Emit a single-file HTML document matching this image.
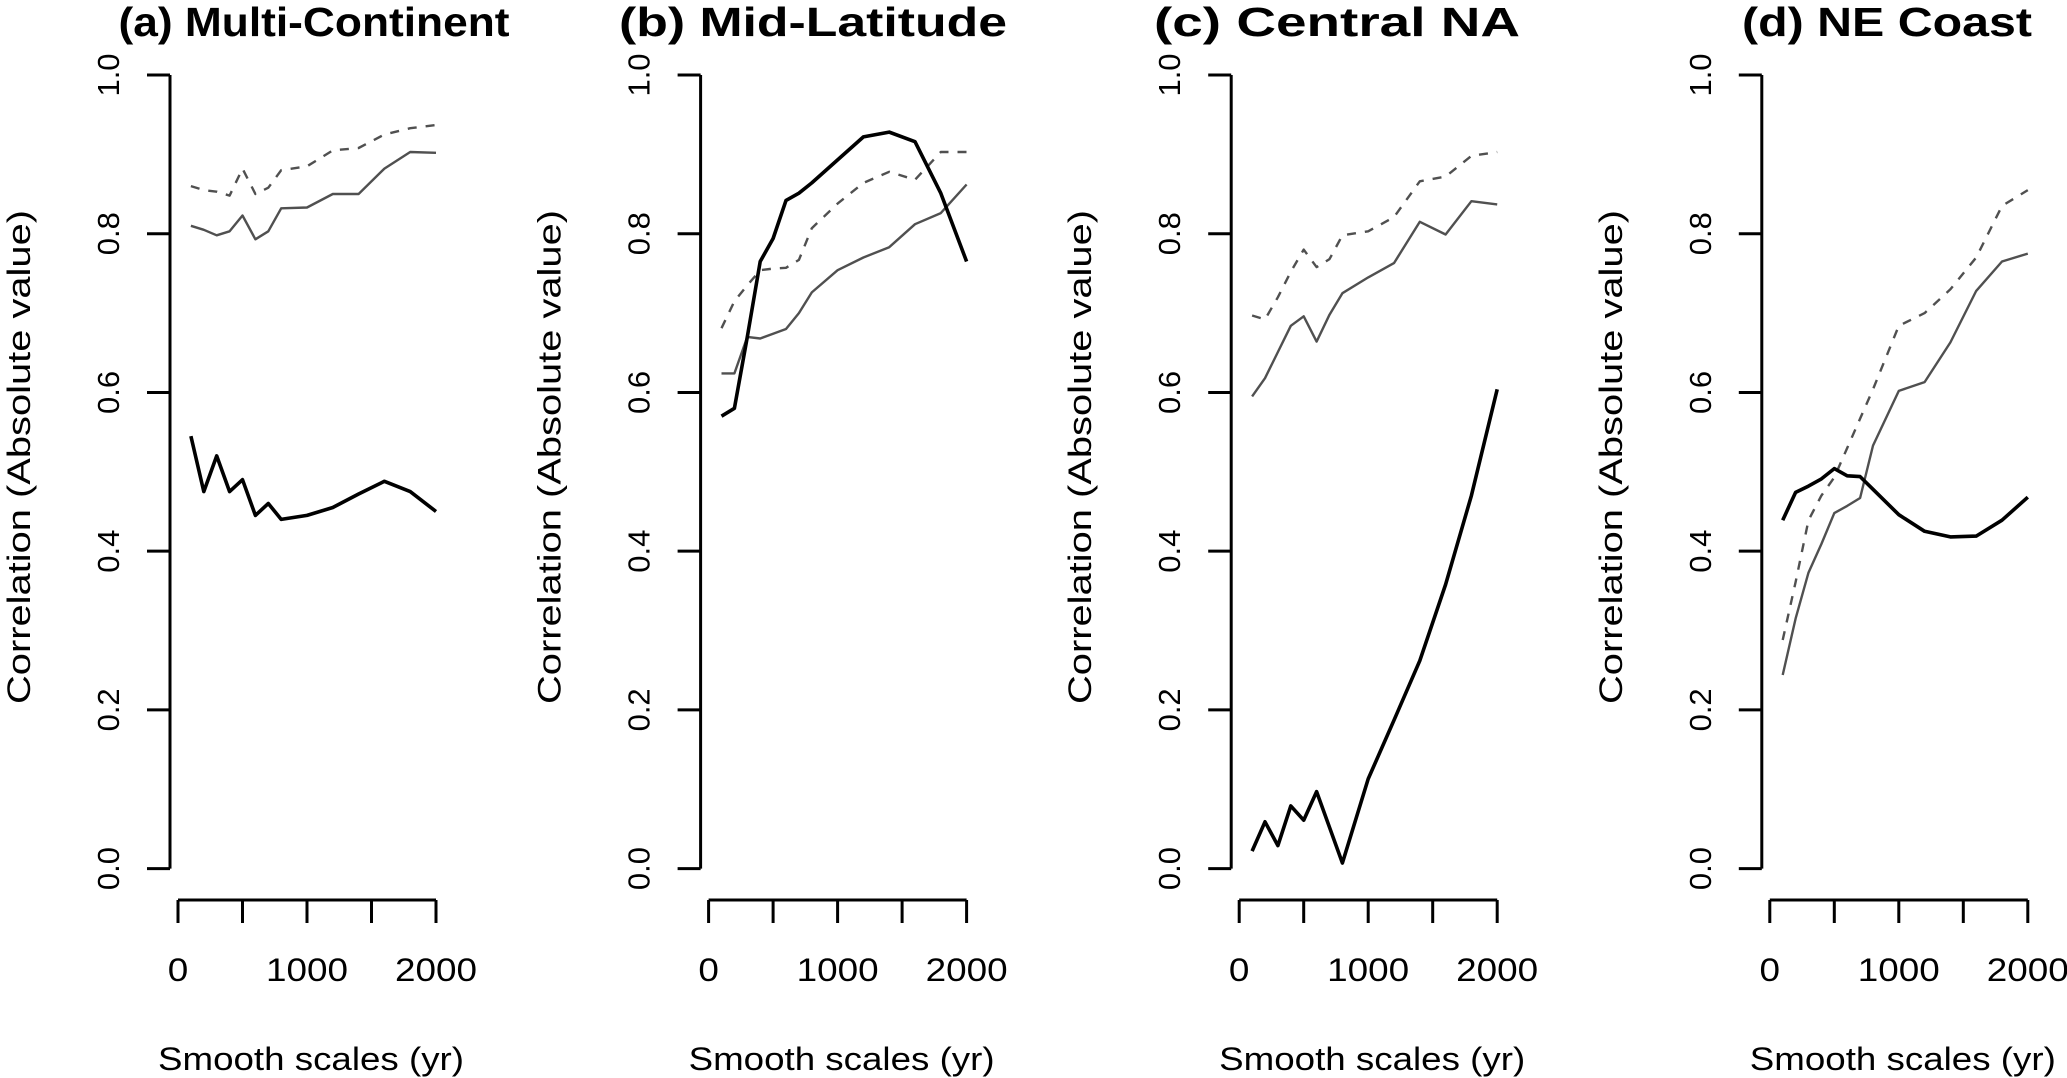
<!DOCTYPE html>
<html><head><meta charset="utf-8">
<style>
html,body{margin:0;padding:0;background:#fff;}
svg{display:block;font-family:"Liberation Sans",Arial,sans-serif;}
</style></head>
<body>
<svg id="chart" width="2067" height="1078" viewBox="0 0 2067 1078" xmlns="http://www.w3.org/2000/svg"></svg>
<script>
const scales = [100,200,300,400,500,600,700,800,1000,1200,1400,1600,1800,2000];
const panelTitles = ["(a) Multi-Continent","(b) Mid-Latitude","(c) Central NA","(d) NE Coast"];
const titleCenters = [314,813,1337,1887];
const titleWidths = [391,388,366,290];
const yTicks = [0,0.2,0.4,0.6,0.8,1.0];
const yTickLabels = ["0.0","0.2","0.4","0.6","0.8","1.0"];
const xTicks = [0,500,1000,1500,2000];
const xTickLabels = ["0","","1000","","2000"];
const blackA = [0.545,0.475,0.52,0.475,0.49,0.445,0.46,0.44,0.445,0.455,0.472,0.488,0.475,0.45];
const grayA  = [0.81,0.805,0.798,0.803,0.823,0.793,0.803,0.832,0.833,0.85,0.85,0.882,0.903,0.902];
const dashA  = [0.86,0.855,0.853,0.848,0.882,0.85,0.858,0.88,0.885,0.905,0.908,0.925,0.933,0.937];
const blackB = [0.57,0.58,0.67,0.765,0.794,0.842,0.851,0.864,0.893,0.922,0.928,0.916,0.851,0.765];
const grayB  = [0.624,0.624,0.67,0.668,0.674,0.68,0.70,0.726,0.754,0.77,0.783,0.812,0.826,0.862];
const dashB  = [0.681,0.715,0.735,0.754,0.756,0.757,0.767,0.807,0.838,0.864,0.878,0.868,0.903,0.903];
const blackC = [0.022,0.059,0.029,0.079,0.061,0.097,0.052,0.007,0.113,0.187,0.262,0.358,0.47,0.604];
const grayC  = [0.595,0.618,0.651,0.684,0.696,0.664,0.698,0.725,0.745,0.763,0.815,0.799,0.841,0.837];
const dashC  = [0.697,0.692,0.72,0.752,0.78,0.758,0.768,0.798,0.803,0.821,0.866,0.872,0.898,0.903];
const blackD = [0.439,0.474,0.482,0.491,0.504,0.495,0.494,0.478,0.446,0.425,0.418,0.419,0.439,0.468];
const grayD  = [0.244,0.315,0.373,0.409,0.448,0.457,0.467,0.533,0.602,0.613,0.663,0.728,0.765,0.775];
const dashD  = [0.288,0.361,0.439,0.47,0.493,0.53,0.567,0.604,0.684,0.70,0.73,0.77,0.835,0.855];

const panels = [[blackA,grayA,dashA],[blackB,grayB,dashB],[blackC,grayC,dashC],[blackD,grayD,dashD]];
const NS = "http://www.w3.org/2000/svg";
const svg = document.getElementById("chart");
function mk(tag, attrs, parent){ const e=document.createElementNS(NS,tag); for(const k in attrs) e.setAttribute(k,attrs[k]); (parent||svg).appendChild(e); return e; }
const PW = 530.6;
function xs(v,i){ return 178 + i*PW + v*(258/2000); }
function ys(v){ return 868.6 - v*793.6; }

panels.forEach((series,i)=>{
  const off = i*PW;
  const g = mk("g",{});
  
  
  const t = mk("text",{x:titleCenters[i],y:36,"text-anchor":"middle","font-size":41,"font-weight":"bold",fill:"#000",textLength:titleWidths[i],lengthAdjust:"spacingAndGlyphs"},g);
  t.textContent = panelTitles[i];
  
  
  const ya = mk("g",{},g);
  
  
  mk("line",{x1:170+off,x2:170+off,y1:ys(1),y2:ys(0),stroke:"#000","stroke-width":3},ya);
  yTicks.forEach((v,k)=>{
    mk("line",{x1:147+off,x2:170+off,y1:ys(v),y2:ys(v),stroke:"#000","stroke-width":3},ya);
    const lb = mk("text",{x:0,y:0,"text-anchor":"middle","font-size":31,fill:"#000",transform:`translate(${119+off},${ys(v)}) rotate(-90)`},ya);
    lb.textContent = yTickLabels[k];
    
    
  });
  const yt = mk("text",{x:0,y:0,"text-anchor":"middle","font-size":32,fill:"#000",textLength:494,lengthAdjust:"spacingAndGlyphs",transform:`translate(${30+off},457) rotate(-90)`},g);
  yt.textContent = "Correlation (Absolute value)";
  
  
  const xa = mk("g",{},g);
  
  
  mk("line",{x1:xs(0,i),x2:xs(2000,i),y1:900,y2:900,stroke:"#000","stroke-width":3},xa);
  xTicks.forEach((v,k)=>{
    mk("line",{x1:xs(v,i),x2:xs(v,i),y1:900,y2:923,stroke:"#000","stroke-width":3},xa);
    const s = xTickLabels[k];
    if(s){
      const lb = mk("text",{x:xs(v,i),y:981,"text-anchor":"middle","font-size":32,fill:"#000",textLength:s.length*20.5,lengthAdjust:"spacingAndGlyphs"},xa);
      lb.textContent = s;
      
      
    }
  });
  const xt = mk("text",{x:xs(1000,i)+4,y:1070,"text-anchor":"middle","font-size":32,fill:"#000",textLength:306,lengthAdjust:"spacingAndGlyphs"},g);
  xt.textContent = "Smooth scales (yr)";
  
  
  const styles = [
    {stroke:"#000","stroke-width":3.6,name:"black-series"},
    {stroke:"#505050","stroke-width":2.4,name:"gray-series"},
    {stroke:"#505050","stroke-width":2.4,"stroke-dasharray":"9 9",name:"dashed-series"}
  ];
  [1,2,0].forEach(s=>{
    const pts = scales.map((x,j)=>xs(x,i).toFixed(1)+","+ys(series[s][j]).toFixed(1)).join(" ");
    const st = styles[s];
    const a = {points:pts,fill:"none",stroke:st.stroke,"stroke-width":st["stroke-width"],"stroke-linejoin":"round"};
    if(st["stroke-dasharray"]) a["stroke-dasharray"]=st["stroke-dasharray"];
    const pl = mk("polyline",a,g);
    
    
  });
});
</script>
</body></html>
